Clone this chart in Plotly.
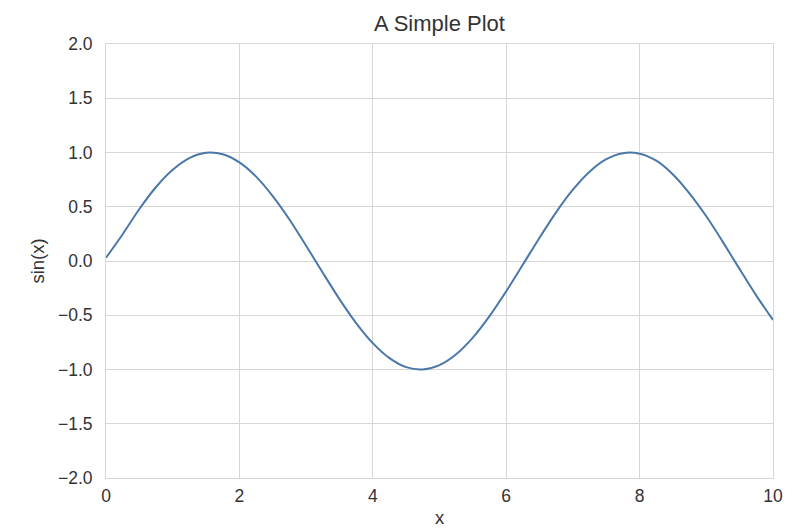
import plotly.graph_objects as go

# values
x_vals = [0, 0.25, 0.5, 0.75, 1, 1.25, 1.5, 1.75, 2, 2.25, 2.5, 2.75, 3, 3.25, 3.5, 3.75,
          4, 4.25, 4.5, 4.75, 5, 5.25, 5.5, 5.75, 6, 6.25, 6.5, 6.75, 7, 7.25, 7.5, 7.75,
          8, 8.25, 8.5, 8.75, 9, 9.25, 9.5, 9.75, 10]
y_vals = [0.03, 0.247, 0.479, 0.682, 0.841, 0.949, 0.997, 0.984, 0.909, 0.778, 0.598, 0.382,
          0.141, -0.108, -0.351, -0.572, -0.757, -0.895, -0.978, -0.999, -0.959, -0.859,
          -0.706, -0.508, -0.279, -0.033, 0.215, 0.451, 0.657, 0.823, 0.938, 0.994, 0.989,
          0.925, 0.798, 0.622, 0.412, 0.174, -0.075, -0.319, -0.544]
x_ticks = [0, 2, 4, 6, 8, 10]
y_ticks = [-2.0, -1.5, -1.0, -0.5, 0.0, 0.5, 1.0, 1.5, 2.0]
y_tick_text = ["\u22122.0", "\u22121.5", "\u22121.0", "\u22120.5", "0.0", "0.5", "1.0", "1.5", "2.0"]

grid = "#d6d6d6"
txt = "#333333"

fig = go.Figure(go.Scatter(x=x_vals, y=y_vals, mode="lines",
                           line=dict(color="#4a78aa", width=2.0, shape="spline", smoothing=0.8)))

fig.update_layout(
    width=806, height=528,
    margin=dict(l=106, r=33, t=44, b=50),
    paper_bgcolor="white", plot_bgcolor="white",
    font=dict(family="Liberation Sans, Arial, sans-serif", size=17.5, color=txt),
    title=dict(text="A Simple Plot", x=0.5, xref="paper", xanchor="center",
               y=1 - 23 / 528, yanchor="middle", font=dict(size=22, color=txt)),
    showlegend=False,
)
fig.update_xaxes(range=[0, 10], tickvals=x_ticks, showgrid=True, gridcolor=grid, gridwidth=1,
                 zeroline=False, showline=True, linecolor=grid, linewidth=1, mirror=True,
                 ticks="", ticklen=0, automargin=False, ticklabelstandoff=2,
                 title=dict(text="x", standoff=8, font=dict(size=18.5)))
fig.update_yaxes(range=[-2, 2], tickvals=y_ticks, ticktext=y_tick_text, showgrid=True, gridcolor=grid,
                 gridwidth=1, zeroline=False, showline=True, linecolor=grid, linewidth=1, mirror=True,
                 ticks="", ticklen=0, automargin=False, ticklabelstandoff=9,
                 title=dict(text="sin(x)", standoff=8, font=dict(size=18.5)))

fig.write_html("out.html", config={"displayModeBar": False},
               post_script="document.body.style.margin='0';document.body.style.overflow='hidden';")
